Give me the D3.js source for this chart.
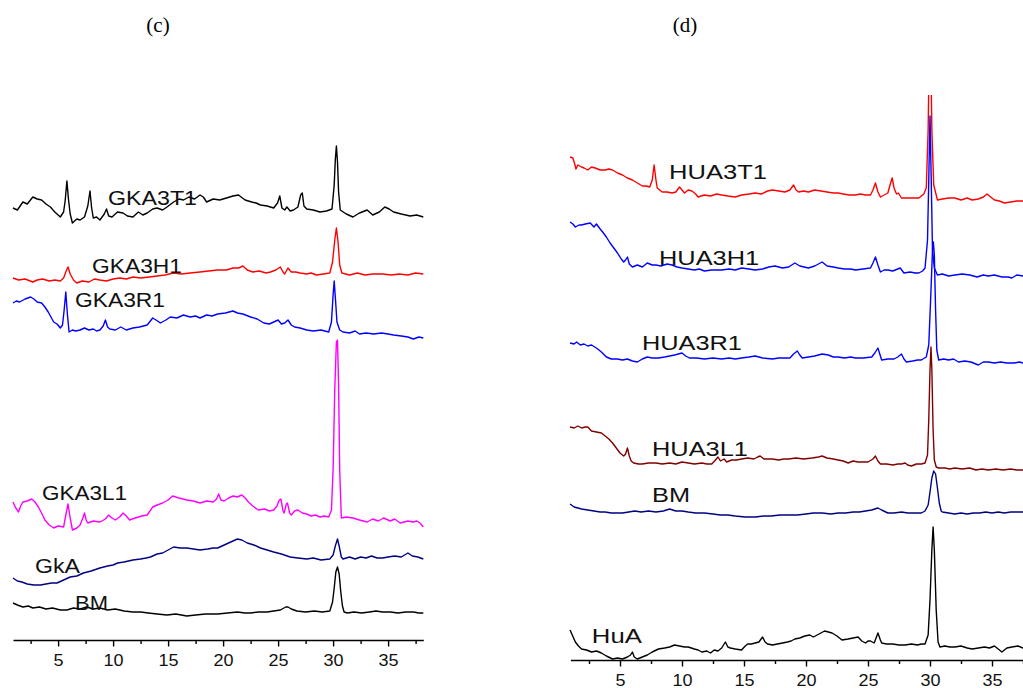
<!DOCTYPE html>
<html><head><meta charset="utf-8">
<script src="https://cdnjs.cloudflare.com/ajax/libs/d3/7.8.5/d3.min.js"></script>
<style>
html,body{margin:0;padding:0;background:#fff;}
svg{display:block;}
</style></head>
<body>
<svg id="chart" width="1023" height="688"></svg>
<script>
// ---------- DATA ----------
const panelTitles = ["(c)", "(d)"];
const majorTicks = [5, 10, 15, 20, 25, 30, 35];
const minorTicks = [2.5, 7.5, 12.5, 17.5, 22.5, 27.5, 32.5, 37.5];

// Panel (c) series names
const seriesC = ["GKA3T1", "GKA3H1", "GKA3R1", "GKA3L1", "GkA", "BM"];
// Panel (d) series names
const seriesD = ["HUA3T1", "HUA3H1", "HUA3R1", "HUA3L1", "BM", "HuA"];

// 2θ, stacked intensity (a.u.)
const GKA3T1 = [[0.9,432],[1.3,430],[1.8,438],[2.2,436],[2.7,443],[3.1,441],[3.5,440],[3.9,436],[4.3,433],[4.7,428],[5.2,423],[5.5,428],[5.65,440],[5.8,459],[5.95,440],[6.1,426],[6.3,417],[6.7,421],[7.0,420],[7.4,423],[7.7,434],[7.9,449],[8.05,432],[8.2,422],[8.5,423],[8.8,420],[9.2,426],[9.4,431],[9.6,424],[9.9,423],[10.4,428],[10.9,427],[11.3,424],[11.8,423],[12.3,428],[12.7,425],[13.1,427],[13.6,431],[14.0,432],[14.5,430],[14.9,433],[15.5,438],[16.0,441],[16.4,440],[16.9,443],[17.4,441],[17.9,445],[18.2,443],[18.5,438],[19.1,441],[19.7,440],[20.3,442],[20.9,444],[21.4,445],[22.0,440],[22.6,438],[23.0,437],[23.4,435],[24.0,434],[24.6,432],[24.95,437],[25.15,444],[25.35,432],[25.6,430],[25.8,433],[26.1,429],[26.4,430],[26.8,433],[27.05,445],[27.2,447],[27.35,434],[27.6,431],[28.2,430],[28.8,428],[29.4,429],[29.9,431],[30.1,455],[30.2,480],[30.3,494],[30.4,478],[30.5,448],[30.65,430],[31.2,426],[31.8,423],[32.4,427],[33.1,430],[33.6,425],[34.2,428],[34.7,433],[35.1,431],[35.5,428],[36.2,426],[37.0,424],[37.6,425],[38.2,423]];
const GKA3H1 = [[0.9,362],[1.4,360],[2.0,361],[2.7,358],[3.1,360],[3.6,361],[4.2,359],[4.7,360],[5.2,359],[5.5,362],[5.7,368],[5.9,373],[6.1,366],[6.4,360],[6.7,357],[7.2,359],[7.8,358],[8.3,361],[8.8,360],[9.4,359],[10.0,361],[10.6,362],[11.2,361],[11.8,363],[12.5,362],[13.3,363],[14.0,364],[14.7,365],[15.5,367],[16.2,366],[17.0,367],[17.9,368],[18.7,369],[19.5,370],[20.3,370],[20.9,372],[21.4,372],[21.8,374],[22.2,370],[22.7,368],[23.3,369],[23.9,367],[24.3,368],[24.8,370],[25.2,373],[25.45,368],[25.6,366],[25.9,372],[26.2,368],[26.6,368],[27.0,367],[27.6,366],[28.0,367],[28.5,365],[29.1,366],[29.7,367],[29.95,378],[30.15,400],[30.3,412],[30.45,398],[30.6,375],[30.8,367],[31.5,365],[32.2,367],[32.9,365],[33.6,366],[34.5,366],[35.3,365],[36.0,366],[36.8,365],[37.5,367],[38.2,366]];
const GKA3R1 = [[0.9,337],[1.2,339],[1.5,338],[2.0,341],[2.5,343],[2.8,341],[3.1,338],[3.5,337],[3.8,333],[4.1,328],[4.4,322],[4.6,318],[4.9,316],[5.2,312],[5.4,315],[5.55,330],[5.7,348],[5.85,325],[6.0,308],[6.3,310],[6.6,309],[7.0,310],[7.4,312],[7.8,310],[8.2,311],[8.5,309],[8.8,310],[9.1,314],[9.3,320],[9.5,313],[9.7,311],[10.2,310],[10.7,313],[11.2,310],[11.8,312],[12.4,313],[13.1,315],[13.6,322],[13.9,320],[14.3,317],[14.8,320],[15.2,323],[15.8,322],[16.4,325],[17.0,323],[17.5,324],[17.9,322],[18.5,325],[19.0,324],[19.5,326],[20.2,327],[20.9,329],[21.3,327],[21.8,326],[22.5,323],[23.1,321],[23.7,317],[24.2,316],[24.6,318],[25.0,320],[25.3,316],[25.6,317],[25.9,320],[26.2,315],[26.5,313],[27.0,312],[27.6,310],[28.2,309],[28.9,310],[29.6,308],[29.85,318],[30.0,345],[30.1,359],[30.22,340],[30.35,318],[30.6,310],[30.9,308],[31.5,307],[32.0,309],[32.4,306],[33.0,307],[33.7,306],[34.4,307],[35.0,306],[35.5,305],[36.2,304],[36.8,303],[37.3,301],[37.8,303],[38.2,302]];
const GKA3L1 = [[0.9,138],[1.1,133],[1.4,128],[1.6,134],[1.8,138],[2.2,139],[2.6,141],[2.9,138],[3.2,133],[3.5,127],[3.8,120],[4.2,115],[4.6,112],[5.0,114],[5.5,113],[5.7,125],[5.9,136],[6.1,122],[6.3,110],[6.7,112],[7.0,115],[7.25,122],[7.4,127],[7.55,120],[7.7,117],[8.2,119],[8.8,118],[9.3,121],[9.6,125],[9.9,122],[10.2,120],[10.6,123],[10.9,127],[11.2,124],[11.5,120],[12.0,122],[12.6,124],[13.1,125],[13.6,133],[14.0,135],[14.5,137],[15.0,140],[15.4,144],[16.0,142],[16.7,140],[17.3,139],[17.9,137],[18.5,139],[19.1,138],[19.4,141],[19.6,146],[19.8,140],[20.1,139],[20.5,142],[20.9,144],[21.3,143],[21.7,145],[22.0,142],[22.3,138],[22.7,134],[23.2,130],[23.8,131],[24.2,129],[24.6,130],[24.9,134],[25.1,140],[25.25,141],[25.45,129],[25.55,127],[25.75,136],[25.85,137],[26.05,127],[26.2,125],[26.5,129],[26.8,130],[27.2,127],[27.6,126],[28.0,124],[28.4,125],[28.8,123],[29.2,124],[29.6,123],[29.85,130],[30.0,170],[30.15,250],[30.3,298],[30.4,300],[30.5,255],[30.6,170],[30.75,122],[31.2,123],[31.8,122],[32.4,120],[33.1,118],[33.6,121],[34.1,119],[34.6,122],[35.2,119],[35.6,121],[36.1,117],[36.8,119],[37.3,118],[37.6,119],[37.9,117],[38.2,113]];
const GkA = [[0.9,62],[1.3,59],[1.7,58],[2.2,56],[2.8,55],[3.4,55],[3.9,56],[4.4,57],[4.9,57],[5.5,60],[6.1,63],[6.7,64],[7.3,67],[8.0,69],[8.8,72],[9.5,74],[10.0,75],[10.4,77],[11.0,78],[11.8,80],[12.5,81],[13.0,82],[13.4,83],[14.0,86],[14.5,87],[15.0,90],[15.5,93],[16.1,92],[16.7,92],[17.3,91],[17.9,90],[18.6,91],[19.1,92],[19.5,92],[20.1,95],[20.7,98],[21.3,101],[21.7,100],[22.2,97],[22.8,95],[23.4,92],[24.0,90],[24.6,88],[25.3,86],[26.1,83],[26.8,82],[27.6,81],[28.2,82],[28.9,80],[29.7,81],[30.0,85],[30.2,94],[30.4,101],[30.55,94],[30.75,83],[30.9,81],[31.5,83],[32.0,81],[32.5,83],[33.0,82],[33.5,84],[34.0,82],[34.5,82],[35.0,83],[35.6,84],[36.2,83],[36.8,87],[37.2,84],[37.7,83],[38.2,81]];
const BM_C = [[0.9,37],[1.3,35],[1.8,33],[2.3,34],[2.7,32],[3.3,33],[3.9,31],[4.5,32],[5.2,30],[5.8,30],[6.4,32],[7.0,31],[7.6,33],[8.2,31],[8.8,32],[9.5,30],[10.2,31],[11.0,29],[11.8,28],[12.5,28],[13.2,27],[14.0,26],[14.9,25],[15.7,26],[16.7,24],[17.5,25],[18.4,26],[19.5,26],[20.4,27],[21.3,28],[22.0,27],[22.5,27],[23.2,28],[24.0,28],[24.6,29],[25.2,30],[25.7,33],[25.9,33],[26.2,31],[26.7,29],[27.5,28],[28.3,29],[29.0,28],[29.7,29],[29.95,38],[30.1,52],[30.25,68],[30.4,73],[30.55,66],[30.7,48],[30.85,34],[31.0,28],[31.3,27],[31.9,28],[32.6,27],[33.3,28],[33.9,29],[34.5,28],[35.2,28],[35.9,27],[36.6,28],[37.3,28],[37.8,27],[38.2,27]];

const HUA3T1 = [[0.97,503],[1.2,502],[1.35,496],[1.45,491],[1.6,495],[1.9,493],[2.1,492],[2.4,490],[2.7,493],[3.0,492],[3.4,490],[3.8,490],[4.1,491],[4.4,490],[4.8,487],[5.2,485],[5.6,482],[6.0,480],[6.4,477],[6.8,474],[7.1,474],[7.4,473],[7.6,480],[7.75,495],[7.9,480],[8.0,472],[8.4,468],[8.8,468],[9.2,467],[9.5,468],[9.8,473],[10.0,470],[10.2,467],[10.5,470],[10.8,469],[11.1,466],[11.3,463],[11.8,465],[12.3,464],[12.8,466],[13.2,465],[13.7,464],[14.3,463],[14.8,465],[15.4,466],[15.9,467],[16.4,466],[16.9,469],[17.3,470],[17.8,469],[18.3,468],[18.7,470],[19.0,475],[19.2,470],[19.4,468],[19.8,469],[20.2,468],[20.7,470],[21.2,469],[21.7,468],[22.2,467],[22.6,467],[23.0,466],[23.5,465],[24.0,465],[24.4,466],[24.8,465],[25.2,465],[25.4,470],[25.6,477],[25.8,468],[26.0,463],[26.3,465],[26.6,467],[26.8,476],[26.95,482],[27.1,472],[27.3,466],[27.45,467],[27.7,462],[28.2,462],[28.7,462],[29.1,462],[29.5,466],[29.7,472],[29.85,530],[29.95,620],[30.05,620],[30.15,530],[30.3,475],[30.6,460],[31.0,461],[31.5,462],[32.0,462],[32.5,460],[33.0,462],[33.4,460],[33.9,461],[34.3,463],[34.6,466],[34.9,463],[35.2,460],[35.6,459],[36.0,457],[36.5,458],[37.0,459],[37.5,459],[38.0,458]];
const HUA3H1 = [[0.97,438],[1.2,436],[1.4,433],[1.7,435],[1.9,435],[2.2,436],[2.6,437],[2.9,433],[3.1,436],[3.4,431],[3.6,428],[3.9,423],[4.2,417],[4.5,412],[4.8,407],[5.1,401],[5.3,398],[5.45,400],[5.6,403],[5.75,396],[6.0,393],[6.4,395],[6.8,393],[7.2,397],[7.6,395],[7.9,395],[8.3,394],[8.8,396],[9.2,395],[9.6,393],[10.0,392],[10.5,391],[11.0,390],[11.4,391],[11.8,389],[12.4,390],[13.2,390],[13.8,391],[14.3,390],[14.8,392],[15.4,391],[15.9,390],[16.5,391],[17.0,393],[17.5,394],[18.1,392],[18.6,393],[19.1,397],[19.5,394],[20.2,392],[20.7,394],[21.0,396],[21.3,398],[21.7,394],[22.2,393],[22.6,392],[23.1,391],[23.6,391],[24.0,390],[24.6,391],[25.2,392],[25.4,397],[25.6,403],[25.8,395],[26.0,388],[26.3,390],[26.6,390],[27.0,389],[27.4,391],[27.6,392],[27.9,387],[28.4,388],[28.8,387],[29.1,387],[29.4,389],[29.6,392],[29.8,420],[29.9,480],[30.0,544],[30.1,480],[30.2,410],[30.35,392],[30.6,385],[31.0,386],[31.5,384],[32.0,385],[32.6,386],[33.2,385],[33.8,383],[34.3,385],[34.7,384],[35.2,385],[35.8,383],[36.3,383],[36.6,382],[37.0,385],[37.5,384],[38.0,384]];
const HUA3R1 = [[0.97,317],[1.3,316],[1.5,318],[1.8,315],[2.1,316],[2.4,314],[2.7,315],[3.1,312],[3.5,308],[3.9,303],[4.3,301],[4.8,301],[5.2,300],[5.6,301],[6.0,299],[6.4,298],[6.8,301],[7.2,303],[7.6,302],[8.1,302],[8.6,303],[9.0,304],[9.4,305],[10.0,307],[10.3,304],[10.6,302],[11.2,302],[11.8,301],[12.5,302],[13.2,301],[13.8,302],[14.3,301],[14.8,302],[15.4,303],[15.9,304],[16.5,302],[17.3,301],[17.8,302],[18.3,302],[18.7,302],[19.0,306],[19.3,309],[19.5,305],[19.7,302],[20.2,303],[20.7,304],[21.3,306],[21.8,305],[22.2,303],[22.6,303],[23.1,302],[23.6,303],[24.0,302],[24.6,302],[25.3,303],[25.55,307],[25.8,312],[26.0,304],[26.1,300],[26.6,301],[27.1,301],[27.4,303],[27.7,306],[27.9,301],[28.1,298],[28.6,299],[29.0,300],[29.3,300],[29.7,303],[29.9,315],[30.05,360],[30.2,410],[30.27,418],[30.35,405],[30.45,350],[30.55,310],[30.7,300],[31.1,301],[31.5,300],[31.9,301],[32.3,298],[32.8,299],[33.3,298],[33.9,295],[34.3,298],[34.7,298],[35.2,297],[35.7,298],[36.2,297],[36.8,297],[37.2,298],[37.5,297],[38.0,297]];
const HUA3L1 = [[0.97,233],[1.3,232],[1.6,234],[1.9,232],[2.2,233],[2.4,233],[2.7,229],[3.1,228],[3.5,227],[3.8,224],[4.1,221],[4.4,217],[4.7,212],[5.0,207],[5.3,204],[5.45,206],[5.6,212],[5.75,204],[5.9,199],[6.1,197],[6.5,196],[6.8,196],[7.3,197],[7.9,197],[8.4,196],[9.0,197],[9.5,196],[10.0,198],[10.5,197],[11.0,196],[11.6,197],[12.0,196],[12.4,196],[12.7,200],[12.9,203],[13.1,199],[13.4,201],[13.6,198],[14.0,200],[14.4,200],[14.8,201],[15.3,202],[15.8,201],[16.1,203],[16.3,204],[16.6,201],[17.0,201],[17.3,201],[17.8,200],[18.2,201],[18.6,201],[19.2,202],[19.8,201],[20.5,202],[21.0,203],[21.3,204],[21.7,202],[22.2,201],[22.6,200],[23.0,199],[23.4,197],[23.8,199],[24.2,198],[24.6,198],[25.0,198],[25.4,201],[25.6,204],[25.8,199],[26.0,196],[26.5,196],[27.0,195],[27.4,196],[27.7,196],[28.0,197],[28.2,195],[28.5,194],[28.9,196],[29.3,196],[29.6,197],[29.8,205],[29.9,240],[30.0,290],[30.08,313],[30.15,290],[30.25,230],[30.35,200],[30.5,193],[30.7,192],[31.2,192],[31.6,191],[32.0,192],[32.6,191],[33.2,192],[33.7,190],[34.2,191],[34.7,190],[35.3,191],[35.9,190],[36.5,191],[37.0,190],[37.5,190],[38.0,190]];
const BM_D = [[0.97,156],[1.3,153],[1.6,152],[1.9,151],[2.4,150],[2.9,149],[3.4,148],[3.8,148],[4.3,147],[4.8,147],[5.2,147],[5.7,148],[6.2,149],[6.7,148],[7.3,149],[7.9,148],[8.5,149],[9.0,151],[9.5,149],[10.0,149],[10.5,148],[11.1,147],[11.8,147],[12.5,146],[13.1,145],[13.7,145],[14.3,144],[15.1,143],[15.9,143],[16.6,144],[17.2,144],[17.9,145],[18.6,145],[19.3,145],[20.0,146],[20.6,147],[21.3,147],[22.0,146],[22.6,147],[23.2,147],[23.8,148],[24.3,148],[24.8,149],[25.3,150],[25.8,152],[26.1,150],[26.6,147],[27.1,147],[27.7,148],[28.2,147],[28.8,147],[29.3,147],[29.6,149],[29.85,155],[30.0,168],[30.15,182],[30.3,189],[30.45,186],[30.6,172],[30.75,157],[30.9,149],[31.0,148],[31.5,147],[32.0,146],[32.5,147],[33.0,146],[33.5,147],[34.0,147],[34.5,148],[35.0,147],[35.5,148],[36.0,147],[36.5,148],[37.0,148],[37.5,148],[38.0,148]];
const HuA = [[0.97,30],[1.15,25],[1.4,18],[1.65,14],[1.9,11],[2.3,10],[2.7,8],[3.1,9],[3.5,7],[3.9,4],[4.4,1],[4.8,2],[5.2,1],[5.6,3],[5.85,5],[6.0,8],[6.15,3],[6.4,1],[6.8,3],[7.2,5],[7.6,8],[8.1,11],[8.6,12],[9.0,13],[9.4,15],[9.8,14],[10.2,13],[10.5,13],[11.0,11],[11.3,10],[11.6,8],[12.0,9],[12.3,7],[12.6,10],[12.9,9],[13.2,12],[13.5,18],[13.7,13],[13.9,12],[14.3,11],[14.8,10],[15.1,14],[15.3,16],[15.6,16],[15.9,17],[16.2,18],[16.5,23],[16.7,18],[16.9,16],[17.3,15],[17.7,16],[18.1,17],[18.5,18],[18.8,19],[19.1,21],[19.5,22],[19.9,24],[20.3,25],[20.6,23],[20.9,25],[21.2,27],[21.5,29],[21.8,28],[22.1,27],[22.5,24],[22.9,20],[23.4,21],[23.8,22],[24.2,23],[24.5,19],[24.8,17],[25.0,19],[25.2,19],[25.5,17],[25.8,27],[26.0,20],[26.1,17],[26.5,16],[27.0,16],[27.5,15],[28.0,15],[28.5,16],[29.0,15],[29.3,16],[29.6,16],[29.85,25],[30.0,60],[30.15,110],[30.25,133],[30.35,110],[30.5,50],[30.65,18],[30.8,13],[31.2,14],[31.6,13],[32.0,13],[32.5,14],[33.0,12],[33.4,11],[33.9,12],[34.4,13],[34.8,12],[35.2,14],[35.5,11],[35.8,8],[36.2,12],[36.6,13],[37.1,14],[37.5,12],[38.0,13]];

// label anchors (2θ, intensity) for each series name
const labelAnchorsC = [[9.54,435],[8.08,367],[6.54,333],[3.54,140],[2.9,67],[6.54,30]];
const labelAnchorsD = [[8.95,481],[8.15,395],[6.77,310],[7.58,204],[7.58,158],[2.73,17]];

// ---------- LAYOUT / STYLE ----------
const colorsC = ["#000000", "#ff0000", "#0000ff", "#ff00ff", "#000080", "#000000"];
const colorsD = ["#ff0000", "#0000ff", "#0000ff", "#800000", "#000080", "#000000"];
const labelWidthsC = [89, 90, 90, 85, 45, 33];
const labelWidthsD = [98, 100, 100, 96, 38, 50];

const svg = d3.select("#chart");

const panels = [
  {title: panelTitles[0], titleX: 158, names: seriesC, data: [GKA3T1, GKA3H1, GKA3R1, GKA3L1, GkA, BM_C],
   colors: colorsC, anchors: labelAnchorsC, widths: labelWidthsC,
   x: d3.scaleLinear().domain([0.9, 38.2]).range([13, 423.3]),
   y: d3.scaleLinear().domain([0, 540]).range([640, 100]), axisY: 640, clipTop: 60, clipLeft: 0, clipRight: 440},
  {title: panelTitles[1], titleX: 685, names: seriesD, data: [HUA3T1, HUA3H1, HUA3R1, HUA3L1, BM_D, HuA],
   colors: colorsD, anchors: labelAnchorsD, widths: labelWidthsD,
   x: d3.scaleLinear().domain([1, 38]).range([570.4, 1029.2]),
   y: d3.scaleLinear().domain([0, 565]).range([660, 95]), axisY: 660, clipTop: 95, clipLeft: 560, clipRight: 1023}
];

panels.forEach((p, i) => {
  const g = svg.append("g");
  // title
  svg.append("text").attr("x", p.titleX).attr("y", 32)
    .attr("text-anchor", "middle")
    .attr("font-family", "'Liberation Serif','Times New Roman',serif")
    .attr("font-size", 21).attr("fill", "#000").text(p.title);

  const clipId = "clip" + i;
  svg.append("clipPath").attr("id", clipId).append("rect")
    .attr("x", p.clipLeft).attr("y", p.clipTop)
    .attr("width", p.clipRight - p.clipLeft).attr("height", p.axisY - p.clipTop);

  const line = d3.line().x(d => p.x(d[0])).y(d => p.y(d[1])).curve(d3.curveLinear);
  const lines = g.append("g").attr("clip-path", `url(#${clipId})`);
  p.data.forEach((s, k) => {
    lines.append("path").datum(s).attr("d", line)
      .attr("fill", "none").attr("stroke", p.colors[k])
      .attr("stroke-width", 1.4).attr("stroke-linejoin", "round");
  });

  // labels
  p.names.forEach((n, k) => {
    g.append("text").attr("x", p.x(p.anchors[k][0])).attr("y", p.y(p.anchors[k][1]))
      .attr("font-family", "'Liberation Sans',Arial,sans-serif")
      .attr("font-size", 21).attr("fill", "#111")
      .attr("textLength", p.widths[k]).attr("lengthAdjust", "spacingAndGlyphs")
      .text(n);
  });

  // axes
  const ax = g.append("g").attr("transform", `translate(0,${p.axisY})`)
    .call(d3.axisBottom(p.x).tickValues(majorTicks).tickSize(6.5).tickSizeOuter(0).tickPadding(8.5));
  ax.select(".domain").attr("stroke-width", 1.6);
  ax.selectAll(".tick line").attr("stroke-width", 1.4);
  ax.selectAll(".tick text")
    .attr("font-family", "'Liberation Sans',Arial,sans-serif")
    .attr("font-size", 16).attr("fill", "#111")
    .attr("textLength", d => String(d).length * 10).attr("lengthAdjust", "spacingAndGlyphs");
  const axm = g.append("g").attr("transform", `translate(0,${p.axisY})`)
    .call(d3.axisBottom(p.x).tickValues(minorTicks).tickSize(4).tickFormat(""));
  axm.select(".domain").remove();
  axm.selectAll(".tick line").attr("stroke-width", 1.4);
});
</script>
</body></html>
